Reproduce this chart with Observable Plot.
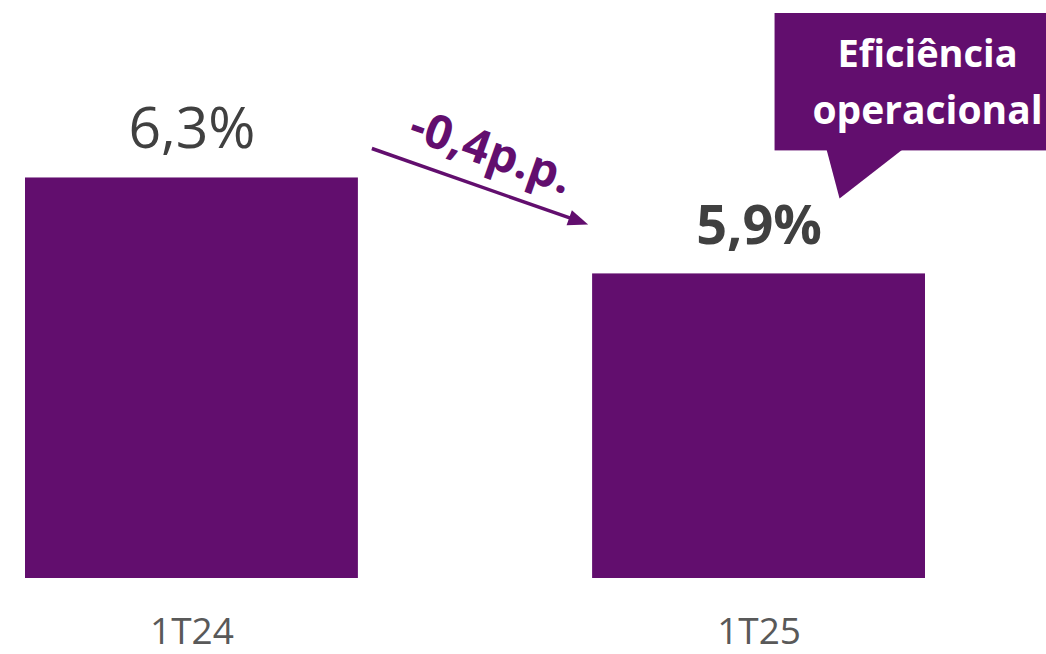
<!DOCTYPE html>
<html>
<head>
<meta charset="utf-8">
<script src="https://cdn.jsdelivr.net/npm/d3@7"></script>
<script src="https://cdn.jsdelivr.net/npm/@observablehq/plot@0.6"></script>
<style>
  html, body { margin: 0; padding: 0; background: #ffffff; }
  #chart { width: 1046px; height: 654px; overflow: hidden; }
  svg { font-family: "Open Sans", sans-serif; }
</style>
</head>
<body>
<div id="chart"></div>
<script>
const categories = ["1T24", "1T25"];
const values = [6.3, 5.9];
const valueLabels = ["6,3%", "5,9%"];
const changeLabel = "-0,4p.p.";
const calloutLines = ["Eficiência", "operacional"];

const PURPLE = "#620e6e";
const data = categories.map((c, i) => ({cat: c, value: values[i], label: valueLabels[i]}));

const chart = Plot.plot({
  width: 1046,
  height: 654,
  marginTop: 0,
  marginBottom: 76,
  marginLeft: 25,
  marginRight: 121,
  style: {fontFamily: "'Open Sans', sans-serif", background: "#ffffff"},
  x: {domain: categories, paddingInner: 0.413, paddingOuter: 0, round: false},
  y: {domain: [4.63, 7.04], axis: null},
  marks: [
    Plot.barY(data, {x: "cat", y: "value", fill: PURPLE, clip: true}),
    Plot.text(data.filter(d => d.cat === "1T24"), {
      x: "cat", y: "value", text: "label", lineAnchor: "bottom", dy: -30,
      fontSize: 57, fill: "#404040", fontWeight: 400
    }),
    Plot.text(data.filter(d => d.cat === "1T25"), {
      x: "cat", y: "value", text: "label", lineAnchor: "bottom", dy: -30,
      fontSize: 54, fill: "#404040", fontWeight: 700
    }),
    Plot.axisX({tickSize: 0, tickPadding: 39, fontSize: 37, fill: "#595959", label: null})
  ]
});

document.getElementById("chart").appendChild(chart);

// Annotations positioned from the chart's own scales
const xs = chart.scale("x");
const ys = chart.scale("y");
const bw = xs.bandwidth;
const x1Left = xs.apply("1T24");
const x2Left = xs.apply("1T25");
const y1Top = ys.apply(values[0]);
const y2Top = ys.apply(values[1]);

const svg = d3.select(chart);
const g = svg.append("g");

// arrow
const ax0 = x1Left + bw + 14, ay0 = y1Top - 29;
const ax1 = x2Left - 4, ay1 = y2Top - 49;
const ang = Math.atan2(ay1 - ay0, ax1 - ax0);
const headLen = 20, headW = 8;
const bx = ax1 - headLen * Math.cos(ang), by = ay1 - headLen * Math.sin(ang);
g.append("line")
  .attr("x1", ax0).attr("y1", ay0)
  .attr("x2", bx + 2 * Math.cos(ang)).attr("y2", by + 2 * Math.sin(ang))
  .attr("stroke", PURPLE).attr("stroke-width", 3.5);
g.append("polygon")
  .attr("points", [
    [ax1, ay1],
    [bx + headW * Math.sin(ang), by - headW * Math.cos(ang)],
    [bx - headW * Math.sin(ang), by + headW * Math.cos(ang)]
  ].map(p => p.join(",")).join(" "))
  .attr("fill", PURPLE);

// change label, rotated along the arrow
const deg = ang * 180 / Math.PI;
const tx = (ax0 + ax1) / 2 + 12, ty = (ay0 + ay1) / 2 - 37;
g.append("text")
  .attr("transform", `translate(${tx},${ty}) rotate(${deg})`)
  .attr("text-anchor", "middle")
  .attr("dominant-baseline", "central")
  .attr("font-size", 47)
  .attr("font-weight", 700)
  .attr("fill", PURPLE)
  .text(changeLabel);

// callout box
const cx = x2Left + bw / 2;
const boxL = cx + 16, boxR = 1060, boxT = 13, boxB = y2Top - 123;
g.append("rect")
  .attr("x", boxL).attr("y", boxT)
  .attr("width", boxR - boxL).attr("height", boxB - boxT)
  .attr("fill", PURPLE);
g.append("polygon")
  .attr("points", [
    [cx + 68, boxB - 1], [cx + 144, boxB - 1], [cx + 81, y2Top - 75]
  ].map(p => p.join(",")).join(" "))
  .attr("fill", PURPLE);
const textCx = cx + 169;
g.append("text")
  .attr("x", textCx).attr("y", 67)
  .attr("text-anchor", "middle")
  .attr("font-size", 38).attr("font-weight", 700).attr("fill", "#ffffff")
  .text(calloutLines[0]);
g.append("text")
  .attr("x", textCx).attr("y", 124)
  .attr("text-anchor", "middle")
  .attr("font-size", 39).attr("font-weight", 700).attr("fill", "#ffffff")
  .text(calloutLines[1]);
</script>
</body>
</html>
